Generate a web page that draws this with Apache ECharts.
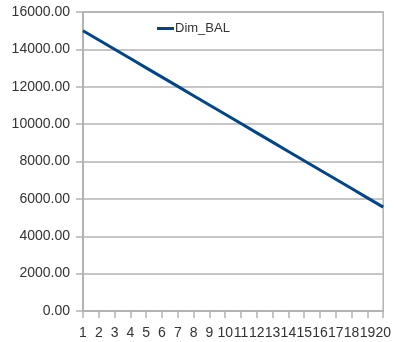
<!DOCTYPE html>
<html>
<head>
<meta charset="utf-8">
<script src="https://cdn.jsdelivr.net/npm/echarts@6/dist/echarts.min.js"></script>
<style>
  html, body { margin: 0; padding: 0; background: #ffffff; }
  #chart { width: 394px; height: 342px; }
</style>
</head>
<body>
<div id="chart"></div>
<script>
// Period numbers along the x axis
var periods = ['1', '2', '3', '4', '5', '6', '7', '8', '9', '10',
               '11', '12', '13', '14', '15', '16', '17', '18', '19', '20'];

// Remaining balance per period
var dimBal = [15000, 14503, 14006, 13509, 13012, 12515, 12018, 11521, 11024, 10527,
              10030, 9533, 9036, 8539, 8042, 7545, 7048, 6551, 6054, 5557];

var seriesName = 'Dim_BAL';

var axisGrey = '#b3b3b3';
var textColor = '#333333';
var fontFamily = '"Liberation Sans", Arial, sans-serif';

var chart = echarts.init(document.getElementById('chart'), null, { renderer: 'canvas' });

chart.setOption({
  animation: false,
  backgroundColor: '#ffffff',
  textStyle: { fontFamily: fontFamily },
  grid: {
    left: 83,
    right: 7,
    top: 12,
    bottom: 31,
    show: true,
    borderColor: axisGrey,
    borderWidth: 1.5,
    backgroundColor: 'transparent'
  },
  legend: {
    data: [seriesName],
    left: 152,
    top: 17,
    icon: 'rect',
    itemWidth: 17,
    itemHeight: 3,
    textStyle: {
      color: textColor,
      fontSize: 13,
      fontFamily: fontFamily,
      padding: [0, 0, 0, -4]
    }
  },
  xAxis: {
    type: 'category',
    data: periods,
    boundaryGap: false,
    axisLine: { lineStyle: { color: axisGrey, width: 2 } },
    axisTick: { show: true, length: 7, alignWithLabel: true, lineStyle: { color: axisGrey, width: 1.5 } },
    axisLabel: {
      interval: 0,
      margin: 15,
      color: textColor,
      fontSize: 14,
      fontFamily: fontFamily
    },
    splitLine: { show: false }
  },
  yAxis: {
    type: 'value',
    min: 0,
    max: 16000,
    interval: 2000,
    axisLine: { show: true, lineStyle: { color: axisGrey, width: 2 } },
    axisTick: { show: true, length: 7, lineStyle: { color: axisGrey, width: 1.5 } },
    axisLabel: {
      margin: 13,
      color: textColor,
      fontSize: 14,
      fontFamily: fontFamily,
      formatter: function (v) { return v.toFixed(2); }
    },
    splitLine: { show: true, lineStyle: { color: axisGrey, width: 1.5 } }
  },
  series: [{
    name: seriesName,
    type: 'line',
    data: dimBal,
    symbol: 'none',
    showSymbol: false,
    itemStyle: { color: '#004586' },
    lineStyle: { color: '#004586', width: 3 }
  }]
});
</script>
</body>
</html>
